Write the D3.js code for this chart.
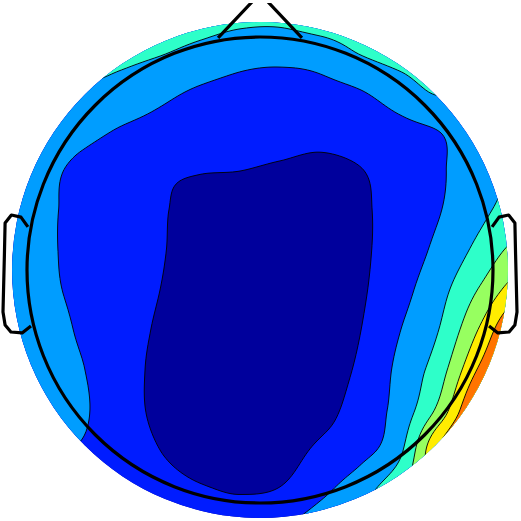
<!DOCTYPE html>
<html><head><meta charset="utf-8">
<script src="https://cdn.jsdelivr.net/npm/d3@7"></script>
<style>html,body{margin:0;padding:0;background:#fff;} svg{display:block;}</style>
</head><body>
<svg id="chart" width="521" height="521"></svg>
<script>
// ---- data: field values sampled on a regular 14 x 14 grid (rows top -> bottom, cols left -> right)
const r0  = [2.6, 2.9, 3.8, 3.9, 3.9, 3.7, 3.45, 3.45, 3.9, 3.9, 3.9, 3.8, 3.1, 2.8];
const r1  = [2.6, 3.0, 3.5, 3.35, 3.13, 2.76, 2.4, 2.3, 2.5, 3.12, 3.5, 3.7, 3.0, 2.8];
const r2  = [2.6, 2.7, 2.9, 2.65, 2.26, 1.92, 1.75, 1.72, 1.75, 1.99, 2.52, 3.15, 2.7, 2.7];
const r3  = [2.5, 2.6, 2.3, 1.95, 1.7, 1.48, 1.43, 1.38, 1.29, 1.46, 1.75, 2.03, 2.6, 2.8];
const r4  = [2.4, 2.25, 1.82, 1.5, 1.15, 1.04, 1.01, 0.9, 0.8, 0.97, 1.42, 1.9, 2.6, 3.1];
const r5  = [2.5, 2.17, 1.8, 1.44, 1.08, 0.75, 0.65, 0.6, 0.6, 0.85, 1.42, 1.97, 2.78, 3.4];
const r6  = [2.6, 2.17, 1.8, 1.43, 1.06, 0.7, 0.55, 0.5, 0.55, 0.85, 1.46, 2.26, 3.29, 4.35];
const r7  = [2.6, 2.22, 1.82, 1.41, 1.0, 0.65, 0.5, 0.48, 0.55, 0.88, 1.68, 2.69, 4.1, 5.6];
const r8  = [2.7, 2.43, 1.91, 1.39, 0.9, 0.6, 0.45, 0.45, 0.55, 0.98, 1.98, 3.05, 5.12, 7.4];
const r9  = [2.7, 2.45, 2.07, 1.4, 0.8, 0.5, 0.4, 0.45, 0.6, 1.15, 2.26, 3.6, 6.2, 8.2];
const r10 = [2.5, 2.4, 2.15, 1.42, 0.8, 0.45, 0.38, 0.45, 0.7, 1.4, 2.4, 4.35, 7.6, 9.0];
const r11 = [2.0, 1.9, 1.95, 1.5, 1.0, 0.55, 0.4, 0.6, 1.16, 1.69, 2.8, 6.2, 8.5, 9.0];
const r12 = [2.0, 1.8, 1.7, 1.6, 1.35, 1.08, 0.95, 1.05, 1.76, 2.6, 3.8, 5.6, 7.0, 8.0];
const r13 = [2.0, 1.8, 1.7, 1.6, 1.5, 1.35, 1.3, 1.9, 2.6, 3.4, 4.2, 5.2, 6.5, 7.5];
const gridRows = [r0, r1, r2, r3, r4, r5, r6, r7, r8, r9, r10, r11, r12, r13];

// contour levels (band boundaries)
const levels = [1, 2, 3, 4, 5, 6];
// position of each band in the jet colormap
const bandT = [0.025, 0.152, 0.279, 0.406, 0.533, 0.66, 0.787];

// head outline shapes in head-radius units (x right, y up)
const noseX = [-0.18, 0, 0.18];
const noseY = [0.996, 1.187, 0.996];
const earX = [0.996, 1.026, 1.067, 1.094, 1.097, 1.103, 1.094, 1.069, 1.021, 0.983];
const earY = [0.185, 0.227, 0.236, 0.202, 0.064, -0.180, -0.236, -0.266, -0.270, -0.240];
const discRadius = 1.064; // interpolated disc radius relative to head radius

// ---- layout
const W = 521, H = 521;
const cx = 260, cy = 270, headR = 233;
const hx = d3.scaleLinear().domain([-1, 1]).range([cx - headR, cx + headR]);
const hy = d3.scaleLinear().domain([-1, 1]).range([cy + headR, cy - headR]);
const nCols = gridRows[0].length, nRows = gridRows.length;
const gx = d3.scaleLinear().domain([0, nCols - 1]).range([0, 520]);
const gy = d3.scaleLinear().domain([0, nRows - 1]).range([10, 530]);

// matplotlib jet
function seg(t, pts) {
  for (let i = 1; i < pts.length; i++) {
    if (t <= pts[i][0]) {
      const [x0, y0] = pts[i - 1], [x1, y1] = pts[i];
      return y0 + (y1 - y0) * (t - x0) / (x1 - x0);
    }
  }
  return pts[pts.length - 1][1];
}
function jet(t) {
  const r = seg(t, [[0,0],[0.35,0],[0.66,1],[0.89,1],[1,0.5]]);
  const g = seg(t, [[0,0],[0.125,0],[0.375,1],[0.64,1],[0.91,0],[1,0]]);
  const b = seg(t, [[0,0.5],[0.11,1],[0.34,1],[0.65,0],[1,0]]);
  return d3.rgb(Math.round(r*255), Math.round(g*255), Math.round(b*255)).formatHex();
}
const bandColors = bandT.map(jet);

// ---- smooth (Catmull-Rom bicubic) resampling of the grid for contouring
function cr(p0, p1, p2, p3, t) {
  return 0.5 * (2*p1 + (-p0 + p2)*t + (2*p0 - 5*p1 + 4*p2 - p3)*t*t + (-p0 + 3*p1 - 3*p2 + p3)*t*t*t);
}
const clampI = (i, n) => Math.max(0, Math.min(n - 1, i));
function sample(u, v) {
  const i = Math.floor(u), j = Math.floor(v);
  const tu = u - i, tv = v - j;
  const rowVals = [];
  for (let k = -1; k <= 2; k++) {
    const row = gridRows[clampI(j + k, nRows)];
    rowVals.push(cr(row[clampI(i-1,nCols)], row[clampI(i,nCols)], row[clampI(i+1,nCols)], row[clampI(i+2,nCols)], tu));
  }
  return cr(rowVals[0], rowVals[1], rowVals[2], rowVals[3], tv);
}
const step = 2;
const px0 = gx(0), px1 = gx(nCols - 1), py0 = gy(0), py1 = gy(nRows - 1);
const fw = Math.round((px1 - px0) / step) + 1, fh = Math.round((py1 - py0) / step) + 1;
const fine = new Float64Array(fw * fh);
for (let j = 0; j < fh; j++) {
  for (let i = 0; i < fw; i++) {
    fine[j * fw + i] = sample(gx.invert(px0 + i * step), gy.invert(py0 + j * step));
  }
}
const contours = d3.contours().size([fw, fh]).thresholds(levels)(Array.from(fine));
const proj = d3.geoIdentity().scale(step).translate([px0 - 0.5 * step, py0 - 0.5 * step]);
const path = d3.geoPath(proj);

// ---- draw
const svg = d3.select("#chart");
const defs = svg.append("defs");
defs.append("clipPath").attr("id", "disc")
  .append("circle").attr("cx", hx(0)).attr("cy", hy(0)).attr("r", hx(discRadius) - hx(0));
defs.append("clipPath").attr("id", "axesClip")
  .append("rect").attr("x", 0).attr("y", 3).attr("width", W).attr("height", H - 3);

const map = svg.append("g").attr("clip-path", "url(#disc)");
map.append("rect").attr("x", 0).attr("y", 0).attr("width", W).attr("height", H).attr("fill", bandColors[0]);
map.selectAll("path.band").data(contours).join("path")
  .attr("class", "band")
  .attr("d", path)
  .attr("fill", (d, i) => bandColors[i + 1]);
map.selectAll("path.line").data(contours).join("path")
  .attr("class", "line")
  .attr("d", path)
  .attr("fill", "none")
  .attr("stroke", "#000")
  .attr("stroke-width", 0.9);

const head = svg.append("g").attr("clip-path", "url(#axesClip)")
  .attr("fill", "none").attr("stroke", "#000").attr("stroke-width", 3.2)
  .attr("stroke-linejoin", "round").attr("stroke-linecap", "butt");
head.append("circle").attr("cx", hx(0)).attr("cy", hy(0)).attr("r", headR);
const line = d3.line().x(d => hx(d[0])).y(d => hy(d[1]));
head.append("path").attr("d", line(noseX.map((x, i) => [x, noseY[i]])));
head.append("path").attr("d", line(earX.map((x, i) => [x, earY[i]])));
head.append("path").attr("d", line(earX.map((x, i) => [-x, earY[i]])));
</script>
</body></html>
